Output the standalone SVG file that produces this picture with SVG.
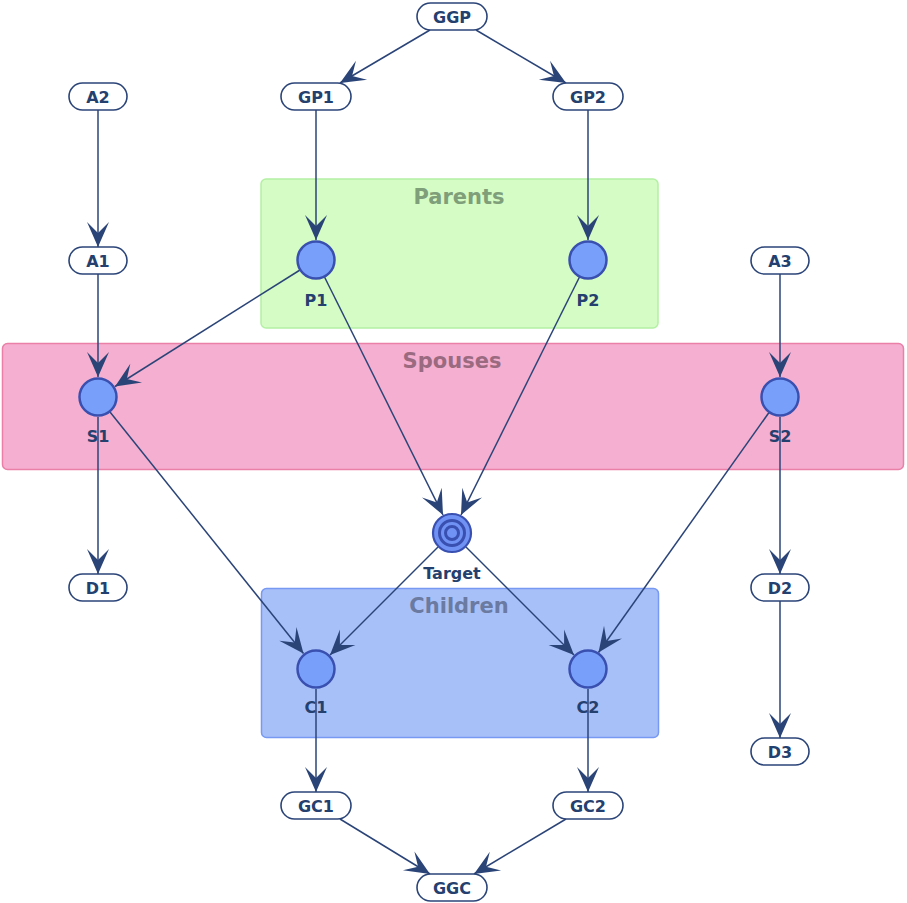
<svg xmlns="http://www.w3.org/2000/svg" width="907" height="903" viewBox="0 0 907 903">
<style>
.pill{fill:#ffffff;stroke:#2b4478;stroke-width:1.6}
.circ{fill:#78a0fa;stroke:#3a50b0;stroke-width:2.5}
.t{font-family:"DejaVu Sans",sans-serif;font-weight:bold;font-size:16px;fill:#24406e;text-anchor:middle}
.g{font-family:"DejaVu Sans",sans-serif;font-weight:bold;font-size:21px;text-anchor:middle}
.e{stroke:#2b4478;stroke-width:1.5;fill:none;marker-end:url(#ah)}
</style>
<defs>
<marker id="ah" markerUnits="userSpaceOnUse" viewBox="-27 -13 29 26" refX="0" refY="0" markerWidth="29" markerHeight="26" orient="auto">
<path d="M0,0 L-25,-11 L-14,0 L-25,11 Z" fill="#2b4478"/>
</marker>
</defs>
<g id="group-parents">
<rect x="261" y="179" width="397" height="149" rx="5" fill="#d4fcc4" stroke="#b4f0a4" stroke-width="1.5"/>
<text class="g" x="459" y="204" fill="#7f9e7a">Parents</text>
</g>
<g id="group-spouses">
<rect x="2.5" y="343.5" width="901" height="126" rx="5" fill="#f5afd0" stroke="#ea80a8" stroke-width="1.5"/>
<text class="g" x="452" y="368" fill="#9a6a80">Spouses</text>
</g>
<g id="group-children">
<rect x="261.5" y="588.5" width="397" height="149" rx="5" fill="#a8c0f8" stroke="#7899f2" stroke-width="1.5"/>
<text class="g" x="459" y="613" fill="#6a7aa0">Children</text>
</g>
<g id="connectors">
<line class="e" x1="430" y1="30" x2="340" y2="83"/>
<line class="e" x1="476" y1="30" x2="566" y2="83"/>
<line class="e" x1="316" y1="110" x2="316" y2="240"/>
<line class="e" x1="588" y1="110" x2="588" y2="240"/>
<line class="e" x1="98" y1="110" x2="98" y2="247"/>
<line class="e" x1="98" y1="274" x2="98" y2="377"/>
<line class="e" x1="780" y1="274" x2="780" y2="377"/>
<line class="e" x1="300" y1="270" x2="115" y2="386.5"/>
<line class="e" x1="324.5" y1="277" x2="443" y2="515"/>
<line class="e" x1="579.5" y1="277" x2="461" y2="515"/>
<line class="e" x1="98" y1="417" x2="98" y2="574"/>
<line class="e" x1="780" y1="417" x2="780" y2="574"/>
<line class="e" x1="780" y1="601" x2="780" y2="738"/>
<line class="e" x1="110" y1="412" x2="303.5" y2="653.5"/>
<line class="e" x1="769" y1="412.5" x2="598.5" y2="652.5"/>
<line class="e" x1="438" y1="547" x2="330" y2="655"/>
<line class="e" x1="466" y1="547" x2="574" y2="655"/>
<line class="e" x1="316" y1="689" x2="316" y2="792"/>
<line class="e" x1="588" y1="689" x2="588" y2="792"/>
<line class="e" x1="340" y1="819" x2="430" y2="874"/>
<line class="e" x1="566" y1="819" x2="474" y2="874"/>
</g>
<g id="GGP"><rect class="pill" x="417" y="3" width="70" height="27" rx="13.5"/><text class="t" x="452" y="22.5">GGP</text></g>
<g id="GP1"><rect class="pill" x="281" y="83" width="70" height="27" rx="13.5"/><text class="t" x="316" y="102.5">GP1</text></g>
<g id="GP2"><rect class="pill" x="553" y="83" width="70" height="27" rx="13.5"/><text class="t" x="588" y="102.5">GP2</text></g>
<g id="A2"><rect class="pill" x="69" y="83" width="58" height="27" rx="13.5"/><text class="t" x="98" y="102.5">A2</text></g>
<g id="A1"><rect class="pill" x="69" y="247" width="58" height="27" rx="13.5"/><text class="t" x="98" y="266.5">A1</text></g>
<g id="A3"><rect class="pill" x="751" y="247" width="58" height="27" rx="13.5"/><text class="t" x="780" y="266.5">A3</text></g>
<g id="P1"><circle class="circ" cx="316" cy="260" r="18.5"/><text class="t" x="316" y="305.5">P1</text></g>
<g id="P2"><circle class="circ" cx="588" cy="260" r="18.5"/><text class="t" x="588" y="305.5">P2</text></g>
<g id="S1"><circle class="circ" cx="98" cy="397" r="18.5"/><text class="t" x="98" y="442">S1</text></g>
<g id="S2"><circle class="circ" cx="780" cy="397" r="18.5"/><text class="t" x="780" y="442">S2</text></g>
<g id="Target">
<circle cx="452" cy="533" r="19" fill="#7092f5" stroke="#3a50b0" stroke-width="2.2"/>
<circle cx="452" cy="533" r="12.5" fill="none" stroke="#3a50b0" stroke-width="3"/>
<circle cx="452" cy="533" r="6.5" fill="none" stroke="#3a50b0" stroke-width="3"/>
<text class="t" x="452" y="579">Target</text>
</g>
<g id="D1"><rect class="pill" x="69" y="574" width="58" height="27" rx="13.5"/><text class="t" x="98" y="593.5">D1</text></g>
<g id="D2"><rect class="pill" x="751" y="574" width="58" height="27" rx="13.5"/><text class="t" x="780" y="593.5">D2</text></g>
<g id="D3"><rect class="pill" x="751" y="738" width="58" height="27" rx="13.5"/><text class="t" x="780" y="757.5">D3</text></g>
<g id="C1"><circle class="circ" cx="316" cy="669" r="18.5"/><text class="t" x="316" y="713">C1</text></g>
<g id="C2"><circle class="circ" cx="588" cy="669" r="18.5"/><text class="t" x="588" y="713">C2</text></g>
<g id="GC1"><rect class="pill" x="281" y="792" width="70" height="27" rx="13.5"/><text class="t" x="316" y="811.5">GC1</text></g>
<g id="GC2"><rect class="pill" x="553" y="792" width="70" height="27" rx="13.5"/><text class="t" x="588" y="811.5">GC2</text></g>
<g id="GGC"><rect class="pill" x="417" y="874" width="70" height="27" rx="13.5"/><text class="t" x="452" y="893.5">GGC</text></g>
</svg>
